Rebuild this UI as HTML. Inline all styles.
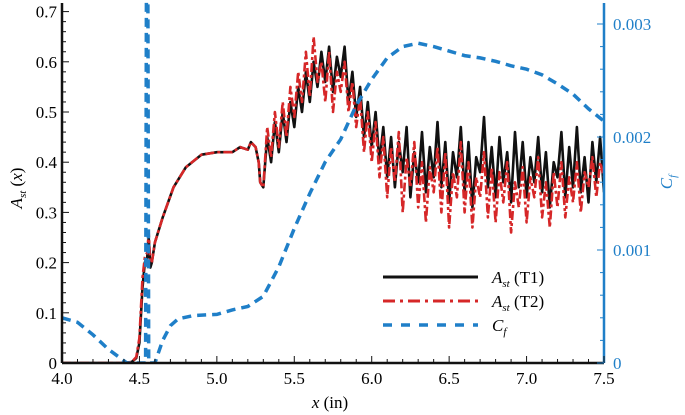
<!DOCTYPE html>
<html><head><meta charset="utf-8"><style>
body{margin:0;background:#fff}
svg{display:block;font-family:"Liberation Serif",serif}
</style></head><body>
<svg id="chart" width="685" height="415">
<g id="marks"></g>
<g id="axes"></g>
<text x="330" y="408" font-size="17" text-anchor="middle"><tspan font-style="italic">x</tspan> (in)</text>
<text transform="translate(22,188) rotate(-90)" font-size="17" text-anchor="middle"><tspan font-style="italic">A</tspan><tspan font-style="italic" font-size="11" dy="4">st</tspan><tspan dy="-4"> (</tspan><tspan font-style="italic">x</tspan>)</text>
<text transform="translate(672,182) rotate(-90)" font-size="17" fill="#1f7fc8" text-anchor="middle"><tspan font-style="italic">C</tspan><tspan font-style="italic" font-size="11" dy="4">f</tspan></text>
<g>
<line x1="383" y1="277" x2="478" y2="277" stroke="#111" stroke-width="3"/>
<line x1="383" y1="301" x2="478" y2="301" stroke="#d62728" stroke-width="3" stroke-dasharray="12 5 3 5"/>
<line x1="383" y1="325" x2="478" y2="325" stroke="#1f7fc8" stroke-width="3.5" stroke-dasharray="9 9"/>
<text x="492" y="283" font-size="17"><tspan font-style="italic">A</tspan><tspan font-style="italic" font-size="11" dy="4">st</tspan><tspan dy="-4"> (T1)</tspan></text>
<text x="492" y="307" font-size="17"><tspan font-style="italic">A</tspan><tspan font-style="italic" font-size="11" dy="4">st</tspan><tspan dy="-4"> (T2)</tspan></text>
<text x="492" y="331" font-size="17"><tspan font-style="italic">C</tspan><tspan font-style="italic" font-size="11" dy="4">f</tspan></text>
</g>
</svg>
<script>
const baseX=[4.0,4.4,4.45,4.48,4.5,4.52,4.535,4.55,4.56,4.57,4.58,4.6,4.65,4.72,4.8,4.9,5.0,5.1,5.15,5.2,5.22,5.25,5.27,5.28,5.3];
const baseT1=[0,0,0.002,0.01,0.04,0.15,0.2,0.21,0.25,0.19,0.2,0.24,0.29,0.35,0.39,0.415,0.42,0.42,0.43,0.425,0.44,0.43,0.40,0.36,0.35];
const baseT2=[0,0,0.002,0.012,0.05,0.17,0.21,0.22,0.26,0.2,0.2,0.24,0.29,0.35,0.39,0.415,0.42,0.42,0.43,0.425,0.44,0.43,0.40,0.36,0.35];
const noiseStart=5.3, noiseStep=0.025;
const t1Noise=[0.36,0.45,0.40,0.48,0.42,0.50,0.44,0.52,0.47,0.55,0.50,0.58,0.52,0.60,0.55,0.62,0.56,0.63,0.54,0.61,0.57,0.63,0.52,0.58,0.49,0.55,0.45,0.52,0.43,0.50,0.40,0.47,0.37,0.45,0.35,0.44,0.38,0.47,0.33,0.42,0.36,0.46,0.34,0.43,0.37,0.48,0.35,0.44,0.32,0.42,0.37,0.47,0.34,0.44,0.31,0.41,0.38,0.49,0.35,0.43,0.33,0.45,0.36,0.42,0.32,0.46,0.35,0.44,0.33,0.41,0.36,0.45,0.34,0.42,0.31,0.40,0.37,0.46,0.33,0.43,0.35,0.47,0.34,0.41,0.32,0.44,0.36,0.45,0.34];
const t2Noise=[0.38,0.47,0.41,0.50,0.43,0.52,0.45,0.55,0.49,0.58,0.52,0.62,0.53,0.65,0.56,0.60,0.52,0.62,0.50,0.58,0.54,0.60,0.50,0.56,0.47,0.53,0.42,0.50,0.40,0.48,0.37,0.45,0.33,0.43,0.36,0.46,0.30,0.41,0.35,0.44,0.31,0.40,0.28,0.39,0.34,0.43,0.30,0.42,0.27,0.38,0.33,0.44,0.30,0.40,0.27,0.37,0.33,0.42,0.29,0.39,0.28,0.38,0.32,0.40,0.26,0.36,0.31,0.39,0.28,0.37,0.33,0.41,0.29,0.36,0.27,0.38,0.31,0.40,0.29,0.37,0.32,0.40,0.30,0.38,0.35,0.41,0.33,0.40,0.37];
const cfX=[4.0,4.1,4.2,4.3,4.42,4.52,4.54,4.545,4.555,4.56,4.6,4.65,4.7,4.75,4.85,5.0,5.1,5.2,5.3,5.4,5.5,5.6,5.7,5.8,5.9,6.0,6.1,6.2,6.3,6.4,6.5,6.6,6.7,6.8,6.9,7.0,7.1,7.2,7.3,7.4,7.5];
const cfY=[0.40,0.36,0.25,0.12,0.0,0.0,0.0,3.2,3.2,0.0,0.0,0.2,0.33,0.39,0.42,0.43,0.47,0.50,0.59,0.85,1.19,1.50,1.78,1.98,2.28,2.51,2.70,2.80,2.83,2.80,2.76,2.72,2.70,2.67,2.63,2.60,2.55,2.47,2.38,2.25,2.14];
const xTicks=["4.0","4.5","5.0","5.5","6.0","6.5","7.0","7.5"];
const yTicks=["0","0.1","0.2","0.3","0.4","0.5","0.6","0.7"];
const y2Ticks=["0","0.001","0.002","0.003"];

const L=62,R=604,B=363;
const sx=v=>L+(v-4)*(R-L)/3.5;
const sy=v=>B-v*502;
const sy2=v=>B-v*113;
const NS="http://www.w3.org/2000/svg";
const marks=document.getElementById('marks'),axes=document.getElementById('axes');
function mk(tag,attrs,parent){const e=document.createElementNS(NS,tag);for(const k in attrs)e.setAttribute(k,attrs[k]);parent.appendChild(e);return e;}
function pts(xs,ys,f){return xs.map((x,i)=>sx(x).toFixed(1)+','+f(ys[i]).toFixed(1)).join(' ');}
const nx=t1Noise.map((_,i)=>noiseStart+i*noiseStep);
const t1X=baseX.concat(nx.slice(1)), t1Y=baseT1.concat(t1Noise.slice(1));
const t2X=baseX.concat(nx.slice(1)), t2Y=baseT2.concat(t2Noise.slice(1));
const clip=mk('clipPath',{id:'pc'},marks);mk('rect',{x:L,y:0,width:R-L,height:B},clip);
const g=mk('g',{'clip-path':'url(#pc)'},marks);
let p=mk('polyline',{points:pts(t1X,t1Y,sy),fill:'none',stroke:'#111','stroke-width':2.6,'stroke-linejoin':'round'},g);


p=mk('polyline',{points:pts(t2X,t2Y,sy),fill:'none',stroke:'#d62728','stroke-width':2.6,'stroke-dasharray':'9 3 3 3','stroke-linejoin':'round'},g);


p=mk('polyline',{points:pts(cfX,cfY,sy2),fill:'none',stroke:'#1f7fc8','stroke-width':3.5,'stroke-dasharray':'9 6'},g);


let a=mk('line',{x1:L,y1:3,x2:L,y2:B,stroke:'#111','stroke-width':2.5},axes);


a=mk('line',{x1:L,y1:B,x2:R,y2:B,stroke:'#111','stroke-width':2.5},axes);


a=mk('line',{x1:R,y1:3,x2:R,y2:B,stroke:'#1f7fc8','stroke-width':2.5},axes);


for(let i=0;i<=35;i++){const x=sx(4+i*0.1);mk('line',{x1:x,y1:B,x2:x,y2:B-(i%5==0?7:4),stroke:'#111','stroke-width':1},axes);}
for(let i=0;i<=35;i++){const y=sy(i*0.02);mk('line',{x1:L,y1:y,x2:L+(i%5==0?7:4),y2:y,stroke:'#111','stroke-width':1},axes);}
for(let i=0;i<=15;i++){const y=sy2(i*0.2);if(y<3)continue;mk('line',{x1:R,y1:y,x2:R-(i%5==0?7:4),y2:y,stroke:'#1f7fc8','stroke-width':1},axes);}
xTicks.forEach(t=>{const e=mk('text',{x:sx(+t),y:B+21,'font-size':17,'text-anchor':'middle'},axes);e.textContent=t;

});
yTicks.forEach(t=>{const e=mk('text',{x:L-5,y:sy(+t)+6,'font-size':17,'text-anchor':'end'},axes);e.textContent=t;

});
y2Ticks.forEach(t=>{const e=mk('text',{x:R+9,y:sy2(+t*1000)+6,'font-size':17,fill:'#1f7fc8'},axes);e.textContent=t;

});
</script>
</body></html>
